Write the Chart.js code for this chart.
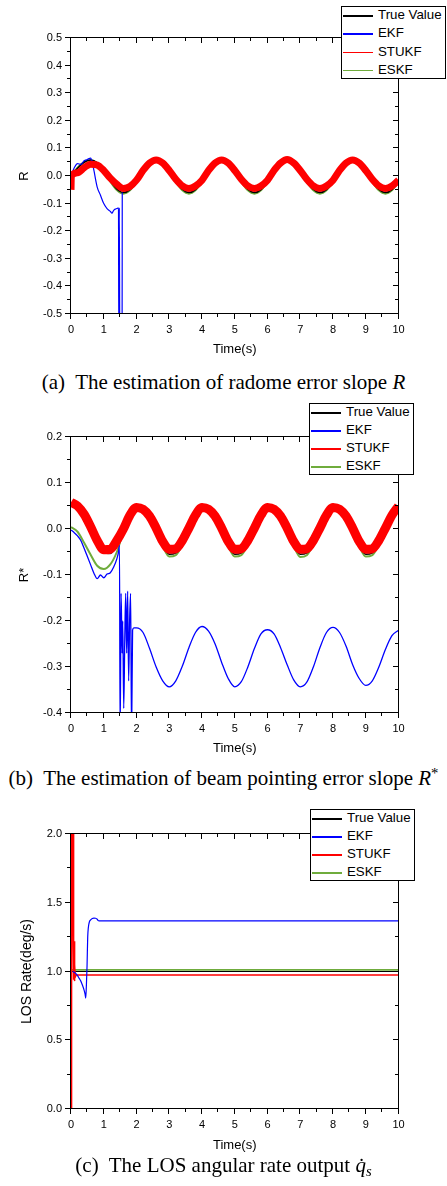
<!DOCTYPE html>
<html>
<head>
<meta charset="utf-8">
<script src="https://cdn.jsdelivr.net/npm/chart.js@4.4.1/dist/chart.umd.min.js"></script>
<style>
  html, body { margin: 0; padding: 0; background: #fff; }
  body { width: 447px; height: 1186px; position: relative; overflow: hidden; }
  canvas { position: absolute; left: 0; }
  .caption {
    position: absolute; left: 0; width: 447px; text-align: center;
    font-family: "Liberation Serif", "Times New Roman", serif;
    font-size: 21px; line-height: 24px; color: #000; white-space: nowrap;
  }
  .caption sup { font-size: 70%; vertical-align: 0.45em; line-height: 0; }
  .caption sub { font-size: 70%; vertical-align: -0.25em; line-height: 0; }
  .mark { position: absolute; background: #000; z-index: 1; }
  .legend {
    position: absolute; background: #fff; border: 1px solid #000; box-sizing: border-box; z-index: 2;
    font-family: Arial, "Liberation Sans", Helvetica, sans-serif; font-size: 13.3px; color: #000;
  }
  .legend .row { position: absolute; left: 0; right: 0; }
  .legend .swatch { position: absolute; left: 1px; width: 30px; height: 1.5px; }
  .legend .name { position: absolute; left: 36px; white-space: nowrap; }
</style>
</head>
<body>
<canvas id="chartR" width="447" height="365" style="top:0px"></canvas>
<div class="caption" style="top:370px">(a)&nbsp; The estimation of radome error slope <i>R</i></div>
<canvas id="chartRs" width="447" height="369" style="top:395px"></canvas>
<div class="caption" style="top:766px">(b)&nbsp; The estimation of beam pointing error slope <i>R</i><sup>*</sup></div>
<canvas id="chartLos" width="447" height="361" style="top:800px"></canvas>
<div class="caption" style="top:1153px">(c)&nbsp; The LOS angular rate output <i>q̇</i><sub><i>s</i></sub></div>

<script>
// ---- data ----
const legendOrder = ['True Value', 'EKF', 'STUKF', 'ESKF'];

const timeGrid = [0, 0.2, 0.4, 0.6, 0.8, 1, 1.2, 1.4, 1.6, 1.8,
                  2, 2.2, 2.4, 2.6, 2.8, 3, 3.2, 3.4, 3.6, 3.8,
                  4, 4.2, 4.4, 4.6, 4.8, 5, 5.2, 5.4, 5.6, 5.8,
                  6, 6.2, 6.4, 6.6, 6.8, 7, 7.2, 7.4, 7.6, 7.8,
                  8, 8.2, 8.4, 8.6, 8.8, 9, 9.2, 9.4, 9.6, 9.8, 10];

// (a) radome error slope R
const trueR = [0.0, 0.028, 0.05, 0.058, 0.048, 0.02, -0.017, -0.047, -0.06, -0.049,
               -0.019, 0.018, 0.048, 0.06, 0.048, 0.019, -0.018, -0.048, -0.06, -0.049,
               -0.019, 0.018, 0.048, 0.06, 0.048, 0.019, -0.018, -0.048, -0.06, -0.049,
               -0.019, 0.018, 0.048, 0.061, 0.048, 0.019, -0.018, -0.048, -0.06, -0.049,
               -0.019, 0.018, 0.048, 0.06, 0.048, 0.019, -0.018, -0.048, -0.06, -0.049, -0.019];
const eskfR = [0.0, 0.03, 0.05, 0.057, 0.047, 0.018, -0.02, -0.051, -0.064, -0.052,
               -0.02, 0.017, 0.047, 0.059, 0.047, 0.017, -0.021, -0.052, -0.064, -0.052,
               -0.02, 0.017, 0.047, 0.059, 0.047, 0.017, -0.021, -0.052, -0.064, -0.052,
               -0.02, 0.017, 0.047, 0.06, 0.047, 0.017, -0.021, -0.052, -0.064, -0.052,
               -0.02, 0.017, 0.047, 0.059, 0.047, 0.017, -0.021, -0.052, -0.064, -0.052, -0.02];
const stukfR = [0.0, 0.012, 0.03, 0.043, 0.04, 0.02, -0.008, -0.03, -0.045, -0.038,
                -0.015, 0.02, 0.047, 0.058, 0.047, 0.02, -0.012, -0.036, -0.045, -0.036,
                -0.015, 0.02, 0.047, 0.058, 0.047, 0.02, -0.012, -0.036, -0.045, -0.036,
                -0.015, 0.02, 0.047, 0.06, 0.047, 0.02, -0.012, -0.036, -0.045, -0.036,
                -0.015, 0.02, 0.047, 0.058, 0.047, 0.02, -0.012, -0.036, -0.045, -0.036, -0.015];
const stukfRHeadTime = [0, 0.01];
const stukfRHead = [-0.05, 0.0];
const ekfRTime = [0, 0.1, 0.2, 0.3, 0.4, 0.5, 0.6, 0.65, 0.7, 0.8, 0.9, 1.0, 1.1, 1.2,
                  1.25, 1.3, 1.35, 1.4, 1.45, 1.46, 1.475, 1.49, 1.56, 1.565];
const ekfR = [0.0, 0.03, 0.045, 0.042, 0.055, 0.06, 0.065, 0.05, 0.02, -0.04, -0.07, -0.1, -0.118, -0.128,
              -0.135, -0.125, -0.12, -0.118, -0.115, -0.6, -0.115, -0.6, -0.6, -0.06];

// (b) beam pointing error slope R*
const trueRs = [0.05, 0.045, 0.028, 0.0, -0.03, -0.052, -0.053, -0.032, -0.002, 0.028,
                0.048, 0.043, 0.026, -0.002, -0.033, -0.055, -0.052, -0.03, 0.0, 0.03,
                0.048, 0.043, 0.026, -0.002, -0.033, -0.055, -0.052, -0.03, 0.0, 0.03,
                0.048, 0.043, 0.026, -0.002, -0.033, -0.055, -0.052, -0.03, 0.0, 0.03,
                0.048, 0.043, 0.026, -0.002, -0.033, -0.055, -0.052, -0.03, 0.0, 0.03, 0.048];
const stukfRs = [0.058, 0.05, 0.032, 0.005, -0.025, -0.045, -0.044, -0.025, 0.0, 0.03,
                 0.047, 0.043, 0.028, 0.002, -0.027, -0.044, -0.043, -0.025, 0.002, 0.03,
                 0.047, 0.043, 0.028, 0.002, -0.027, -0.044, -0.043, -0.025, 0.002, 0.03,
                 0.047, 0.043, 0.028, 0.002, -0.027, -0.044, -0.043, -0.025, 0.002, 0.03,
                 0.047, 0.043, 0.028, 0.002, -0.027, -0.044, -0.043, -0.025, 0.002, 0.03, 0.05];
const eskfRs = [0.004, -0.006, -0.03, -0.056, -0.08, -0.087, -0.077, -0.05, -0.006, 0.025,
                0.048, 0.043, 0.025, -0.004, -0.037, -0.06, -0.057, -0.033, -0.001, 0.03,
                0.048, 0.043, 0.025, -0.004, -0.037, -0.06, -0.057, -0.033, -0.001, 0.03,
                0.048, 0.043, 0.025, -0.004, -0.037, -0.061, -0.057, -0.033, -0.001, 0.03,
                0.048, 0.043, 0.025, -0.004, -0.037, -0.06, -0.057, -0.033, -0.001, 0.03, 0.05];
const ekfRsTime = [0, 0.1, 0.2, 0.3, 0.4, 0.5, 0.6, 0.7, 0.8, 0.9, 1.0, 1.1, 1.2, 1.3, 1.4, 1.45, 1.48,
                   1.5, 1.53, 1.56, 1.58, 1.61, 1.64, 1.67, 1.7, 1.73, 1.76, 1.79, 1.82, 1.85, 1.88, 1.92,
                   2, 2.2, 2.4, 2.6, 2.8, 3, 3.2, 3.4, 3.6, 3.8,
                   4, 4.2, 4.4, 4.6, 4.8, 5, 5.2, 5.4, 5.6, 5.8,
                   6, 6.2, 6.4, 6.6, 6.8, 7, 7.2, 7.4, 7.6, 7.8,
                   8, 8.2, 8.4, 8.6, 8.8, 9, 9.2, 9.4, 9.6, 9.8, 10];
const ekfRs = [-0.002, -0.008, -0.015, -0.025, -0.042, -0.06, -0.078, -0.096, -0.108, -0.1, -0.106, -0.098, -0.095, -0.083, -0.065, -0.05, -0.035,
               -0.45, -0.14, -0.27, -0.2, -0.39, -0.25, -0.14, -0.27, -0.135, -0.33, -0.2, -0.14, -0.45, -0.22, -0.215,
               -0.215, -0.225, -0.26, -0.3, -0.33, -0.343, -0.33, -0.298, -0.258, -0.225,
               -0.212, -0.222, -0.25, -0.29, -0.325, -0.343, -0.332, -0.3, -0.26, -0.228,
               -0.219, -0.228, -0.258, -0.295, -0.328, -0.343, -0.333, -0.3, -0.258, -0.225,
               -0.214, -0.225, -0.255, -0.295, -0.325, -0.34, -0.33, -0.3, -0.262, -0.232, -0.22];

// (c) LOS angular rate
const trueLosTime = [0, 10];
const trueLos = [1.0, 1.0];
const eskfLosTime = [0, 0.005, 0.012, 10];
const eskfLos = [1.0, 1.1, 1.012, 1.012];
const stukfLosTime = [0, 0.01, 0.025, 0.035, 0.045, 0.055, 0.065, 0.075, 0.085, 0.095, 0.105, 0.115, 0.13, 0.16, 10];
const stukfLos = [0.0, 2.2, 1.5, 2.2, 1.45, 2.2, 1.2, 2.1, 0.94, 1.22, 0.93, 1.05, 0.96, 0.975, 0.975];
const ekfLosTime = [0.05, 0.1, 0.15, 0.2, 0.25, 0.3, 0.35, 0.4, 0.43, 0.45, 0.47, 0.49, 0.51, 0.53,
                    0.56, 0.6, 0.65, 0.7, 0.75, 0.8, 0.83, 0.86, 10];
const ekfLos = [1.0, 0.995, 0.985, 0.97, 0.95, 0.93, 0.9, 0.865, 0.835, 0.806, 0.9, 1.04, 1.25, 1.32,
                1.36, 1.375, 1.385, 1.388, 1.387, 1.38, 1.37, 1.368, 1.368];

// ---- styling ----
const BLACK = '#000000';
const BLUE = '#0000ff';
const RED = '#ff0000';
const GREEN = '#6fac3c';
const FONT = 'Arial, "Liberation Sans", Helvetica, sans-serif';

Chart.defaults.font.family = FONT;
Chart.defaults.color = '#000';

const pts = (xs, ys) => xs.map((t, i) => ({ x: t, y: ys[i] }));
const fmt1 = v => (Math.abs(v) < 1e-9 ? 0 : v).toFixed(1);

function mark(l, t, w, h) {
    const d = document.createElement('div');
    d.className = 'mark';
    d.style.left = l + 'px';
    d.style.top = t + 'px';
    d.style.width = w + 'px';
    d.style.height = h + 'px';
    document.body.appendChild(d);
}

/**
 * Frame and Origin style ticks laid over the canvas, positioned
 * from the chart's own scales (out on left/bottom, in on top/right).
 */
function addFrame(chart) {
    const a = chart.chartArea;
    const x = chart.scales.x;
    const y = chart.scales.y;
    const off = chart.canvas.offsetTop;
    const col = px => Math.round(px) - 1;
    const L = col(a.left), R = col(a.right);
    const T = col(a.top) + off, B = col(a.bottom) + off;

    mark(L, T, 1, B - T + 1);
    mark(R, T, 1, B - T + 1);
    mark(L, T, R - L + 1, 1);
    mark(L, B, R - L + 1, 1);

    const xt = x.ticks.map(t => t.value);
    const yt = y.ticks.map(t => t.value);
    const xMark = (v, len) => {
        const c = col(x.getPixelForValue(v));
        mark(c, B + 1, 1, len);
        mark(c, T + 1, 1, len);
    };
    const yMark = (v, len) => {
        const r = col(y.getPixelForValue(v)) + off;
        mark(L - len, r, len, 1);
        mark(R - len, r, len, 1);
    };
    for (let i = 0; i < xt.length; i++) {
        xMark(xt[i], 5);
        if (i > 0) xMark((xt[i] + xt[i - 1]) / 2, 3);
    }
    for (let i = 0; i < yt.length; i++) {
        yMark(yt[i], 5);
        if (i > 0) yMark((yt[i] + yt[i - 1]) / 2, 3);
    }
}

// boxed legend, Origin style, on top of the frame
function addLegend(chart, box) {
    const off = chart.canvas.offsetTop;
    const rowH = box.height / legendOrder.length;
    const lg = document.createElement('div');
    lg.className = 'legend';
    lg.style.left = box.left + 'px';
    lg.style.top = (box.top + off) + 'px';
    lg.style.width = box.width + 'px';
    lg.style.height = box.height + 'px';
    legendOrder.forEach((name, i) => {
        const ds = chart.data.datasets.find(d => d.label === name);
        const row = document.createElement('div');
        row.className = 'row';
        row.style.top = (rowH * i - 1) + 'px';
        row.style.height = rowH + 'px';
        row.style.lineHeight = rowH + 'px';
        const sw = document.createElement('span');
        sw.className = 'swatch';
        sw.style.top = (rowH / 2) + 'px';
        sw.style.background = ds.borderColor;
        const tx = document.createElement('span');
        tx.className = 'name';
        tx.textContent = name;
        row.appendChild(sw);
        row.appendChild(tx);
        lg.appendChild(row);
    });
    document.body.appendChild(lg);
}

function line(label, data, color, width, order, extra) {
    return Object.assign({
        label: label,
        data: data,
        borderColor: color,
        backgroundColor: color,
        borderWidth: width,
        pointRadius: 0,
        fill: false,
        clip: 0,
        order: order,
        cubicInterpolationMode: 'monotone'
    }, extra || {});
}

function makeChart(id, datasets, yOpts, legendBox, topPad, xHeight, yTitlePad) {
    const chart = new Chart(document.getElementById(id), {
        type: 'line',
        data: { datasets: datasets },
        options: {
            responsive: false,
            animation: false,
            devicePixelRatio: 1,
            layout: { padding: { left: 0, right: 48.5, top: topPad, bottom: 0 } },
            plugins: {
                legend: { display: false },
                tooltip: { enabled: false }
            },
            scales: {
                x: {
                    type: 'linear', min: 0, max: 10,
                    grid: { display: false, drawTicks: false },
                    border: { display: false },
                    ticks: { stepSize: 1, padding: 9, font: { size: 11 }, color: '#000' },
                    title: { display: true, text: 'Time(s)', font: { size: 13 }, color: '#000',
                             padding: { top: 0, bottom: 8 } },
                    afterFit(s) { s.height = xHeight; }
                },
                y: {
                    type: 'linear', min: yOpts.min, max: yOpts.max,
                    grid: { display: false, drawTicks: false },
                    border: { display: false },
                    ticks: { stepSize: yOpts.step, padding: 9, font: { size: 11 }, color: '#000', callback: fmt1 },
                    title: { display: true, text: yOpts.title, font: { size: yOpts.titleSize }, color: '#000',
                             padding: { top: yTitlePad, bottom: 0 } },
                    afterFit(s) { s.width = 71; }
                }
            }
        }
    });
    addFrame(chart);
    addLegend(chart, legendBox);
    return chart;
}

// (a)
makeChart('chartR', [
    line('True Value', pts(timeGrid, trueR), BLACK, 1.6, 2),
    line('EKF', pts(ekfRTime, ekfR), BLUE, 1.2, 1),
    line('STUKF', pts(stukfRHeadTime, stukfRHead).concat(pts(timeGrid, stukfR).slice(1)), RED, 7, 0),
    line('ESKF', pts(timeGrid, eskfR), GREEN, 2, 3)
], { min: -0.5, max: 0.5, step: 0.1, title: 'R', titleSize: 13 },
   { left: 341, top: 6, width: 105, height: 73 }, 38, 51, 17);

// (b)
makeChart('chartRs', [
    line('True Value', pts(timeGrid, trueRs), BLACK, 1.6, 2),
    line('EKF', pts(ekfRsTime, ekfRs), BLUE, 1.3, 1),
    line('STUKF', pts(timeGrid, stukfRs), RED, 9, 0),
    line('ESKF', pts(timeGrid, eskfRs), GREEN, 2, 3)
], { min: -0.4, max: 0.2, step: 0.1, title: 'R*', titleSize: 13 },
   { left: 309, top: 8, width: 105, height: 72 }, 42, 51, 17);

// (c)
makeChart('chartLos', [
    line('True Value', pts(trueLosTime, trueLos), BLACK, 1.2, 3),
    line('EKF', pts(ekfLosTime, ekfLos), BLUE, 1.2, 0),
    line('STUKF', pts(stukfLosTime, stukfLos), RED, 1.5, 1, { cubicInterpolationMode: 'default', tension: 0 }),
    line('ESKF', pts(eskfLosTime, eskfLos), GREEN, 1.6, 2, { cubicInterpolationMode: 'default', tension: 0 })
], { min: 0, max: 2, step: 0.5, title: 'LOS Rate(deg/s)', titleSize: 14 },
   { left: 310, top: 9, width: 105, height: 72 }, 34, 52, 19);
</script>
</body>
</html>
